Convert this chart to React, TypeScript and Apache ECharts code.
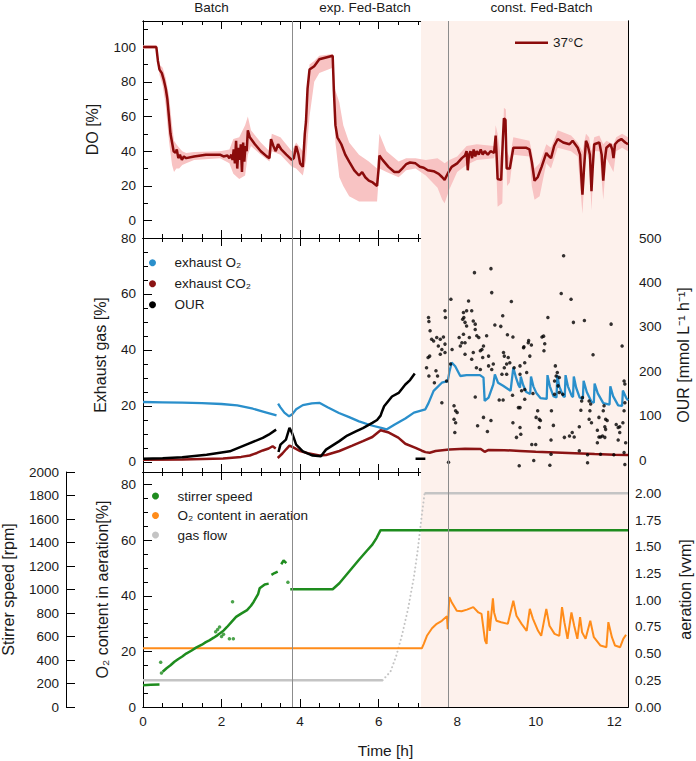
import React, { useEffect, useRef } from "react";
import * as echarts from "echarts";

const FONT = '"Liberation Sans", Arial, Helvetica, sans-serif';
const TXT = "#1a1a1a";

// ---------- axis extents & ticks ----------
const T_MIN = 0;
const T_MAX = 12.35;
const X_MAJOR = [0, 2, 4, 6, 8, 10, 12];
const DO_LABELS = [0, 20, 40, 60, 80, 100];
const EXH_LABELS = [0, 20, 40, 60, 80];
const OUR_LABELS = [0, 100, 200, 300, 400, 500];
const O2C_LABELS = [0, 20, 40, 60, 80];
const AER_LABELS = [0, 0.25, 0.5, 0.75, 1.0, 1.25, 1.5, 1.75, 2.0];
const RPM_LABELS = [0, 200, 400, 600, 800, 1000, 1200, 1400, 1600, 1800, 2000];

const PHASE_NAMES = ["Batch", "exp. Fed-Batch", "const. Fed-Batch"];
const PHASE_LINES_T = [3.79, 7.78];
const SHADE_START_T = 7.08;

// ---------- DO (top panel) ----------
const DO_MEAN = [
  [0, 100], [0.34, 100], [0.38, 92], [0.42, 87], [0.48, 85], [0.53, 81], [0.58, 76], [0.62, 70], [0.66, 60],
  [0.7, 50], [0.74, 45], [0.78, 40], [0.83, 39], [0.86, 41], [0.9, 36], [0.94, 38], [0.99, 35], [1.04, 37],
  [1.1, 36], [1.3, 37], [1.6, 38], [1.96, 38], [2.05, 37], [2.15, 37.5], [2.2, 36], [2.25, 38], [2.28, 35],
  [2.31, 41], [2.34, 33], [2.37, 46], [2.4, 30], [2.43, 42], [2.46, 35], [2.49, 44], [2.52, 28], [2.55, 45],
  [2.58, 34], [2.61, 43], [2.64, 40], [2.67, 52], [2.72, 48], [2.85, 44], [3.0, 40], [3.15, 37], [3.22, 36],
  [3.26, 47], [3.32, 43], [3.38, 40], [3.44, 44], [3.52, 41], [3.65, 38], [3.79, 35], [3.84, 36], [3.9, 43],
  [3.96, 38], [4.0, 33], [4.07, 31], [4.12, 50], [4.15, 57], [4.19, 76], [4.24, 87], [4.36, 89], [4.49, 93],
  [4.83, 95], [4.86, 75], [4.9, 55], [4.95, 48], [5.05, 44], [5.15, 38], [5.25, 34], [5.38, 29], [5.5, 26],
  [5.58, 28], [5.66, 25], [5.75, 23], [5.85, 22], [5.96, 20], [6.0, 30], [6.02, 37.5], [6.1, 35], [6.25, 31],
  [6.4, 28], [6.51, 28], [6.6, 30], [6.7, 32.5], [6.8, 33.5], [6.94, 33], [7.05, 31], [7.15, 30.5], [7.25, 29],
  [7.4, 28.5], [7.53, 27], [7.62, 25], [7.68, 23.5], [7.78, 28], [7.86, 31], [8.0, 33], [8.12, 36], [8.2, 37.5],
  [8.24, 40], [8.27, 29], [8.3, 38], [8.34, 40], [8.38, 36], [8.42, 41], [8.46, 37], [8.5, 40], [8.55, 38],
  [8.6, 41], [8.65, 38], [8.7, 40], [8.78, 38], [8.85, 40], [8.94, 39], [8.98, 49], [9.0, 40], [9.03, 24],
  [9.12, 23.5], [9.16, 45], [9.19, 59], [9.23, 58], [9.26, 30], [9.34, 30], [9.4, 38], [9.43, 42], [9.6, 42],
  [9.75, 42], [9.84, 41], [9.9, 34], [9.97, 23], [10.05, 25], [10.15, 31], [10.27, 39], [10.34, 37], [10.39, 36],
  [10.47, 43], [10.56, 47], [10.7, 45], [10.86, 44], [10.94, 46], [11.07, 42], [11.13, 38], [11.17, 22],
  [11.19, 15], [11.23, 30], [11.28, 46], [11.32, 44], [11.38, 38], [11.42, 17], [11.45, 30], [11.49, 44],
  [11.62, 45], [11.68, 38], [11.72, 23], [11.76, 35], [11.8, 42], [11.9, 44], [11.95, 41], [11.98, 36],
  [12.02, 44], [12.1, 46], [12.18, 47], [12.28, 45], [12.35, 44],
];

// [time, lower, upper] of the shaded deviation band
const DO_BAND = [
  [0, 99, 101], [0.34, 99, 101], [0.42, 84, 90], [0.5, 78, 88], [0.58, 66, 82], [0.66, 46, 72], [0.74, 32, 55],
  [0.79, 28, 46], [0.85, 30, 44], [0.92, 30, 42], [1.0, 32, 40], [1.1, 33, 39], [1.3, 35, 39.5], [1.96, 36, 40],
  [2.2, 33, 41], [2.3, 27, 47], [2.45, 24, 48], [2.6, 26, 55], [2.67, 38, 60], [2.75, 43, 52], [3.0, 38, 45],
  [3.22, 34, 40], [3.28, 40, 50], [3.5, 38, 48], [3.79, 31, 40], [3.9, 30, 45], [4.07, 26, 40], [4.15, 35, 60],
  [4.24, 60, 90], [4.36, 80, 92], [4.49, 85, 95], [4.83, 88, 96], [4.9, 45, 75], [5.0, 25, 68], [5.1, 20, 55],
  [5.25, 14, 45], [5.5, 11, 38], [5.75, 11, 34], [5.96, 11, 30], [6.02, 30, 50], [6.2, 28, 40], [6.51, 25, 34],
  [6.7, 29, 36], [6.94, 30, 36], [7.2, 26, 35], [7.5, 19, 36], [7.62, 12, 34], [7.68, 10, 33], [7.8, 18, 35],
  [8.0, 28, 37], [8.24, 32, 43], [8.5, 35, 44], [8.94, 36, 43], [8.98, 40, 55], [9.03, 8, 50], [9.15, 10, 30],
  [9.19, 50, 65], [9.24, 48, 64], [9.27, 20, 40], [9.34, 22, 36], [9.43, 38, 48], [9.84, 37, 46], [9.9, 20, 40],
  [9.97, 12, 30], [10.1, 14, 33], [10.27, 33, 44], [10.39, 30, 42], [10.56, 42, 52], [10.9, 40, 49],
  [11.07, 37, 45], [11.19, 4, 40], [11.28, 40, 50], [11.36, 35, 48], [11.42, 6, 40], [11.49, 40, 48],
  [11.62, 40, 49], [11.72, 12, 44], [11.8, 36, 46], [11.98, 28, 44], [12.05, 40, 48], [12.2, 42, 50],
  [12.35, 40, 48],
];

// ---------- exhaust gas (middle panel) ----------
const EXHAUST_O2 = [
  [0, 21.4], [0.5, 21.3], [1, 21.2], [1.5, 21], [2, 20.7], [2.4, 20.2], [2.8, 19], [3.1, 17.8], [3.4, 16.6],
  [3.42, null], [3.44, 20.8], [3.5, 19.5], [3.6, 17.6], [3.72, 16.3], [3.8, 17], [3.9, 18.8], [4.07, 20.3],
  [4.3, 20.9], [4.49, 21.1], [4.7, 19.5], [4.99, 17.5], [5.25, 16], [5.5, 14.5], [5.8, 13.1], [6.09, 12.1],
  [6.2, 11.6], [6.4, 13.3], [6.68, 15.5], [6.9, 17.6], [7.19, 18.8], [7.27, 21], [7.4, 25.4], [7.61, 28.3],
  [7.76, 28.9], [7.8, 32], [7.86, 35.5], [7.95, 34.2], [8.08, 30.7], [8.24, 31], [8.58, 31], [8.67, 30.1],
  [8.7, 21.8], [8.8, 23], [8.92, 27.7], [8.96, 31.3], [9.04, 28.3], [9.17, 27.2], [9.36, 25.4], [9.43, 33.7],
  [9.5, 30], [9.56, 27.5], [9.6, 26.5], [9.62, 30.5], [9.68, 27.5], [9.76, 25], [9.86, 24.3], [9.88, 30.5],
  [9.94, 27], [10.02, 24.5], [10.12, 22.8], [10.28, 22.5], [10.3, 31], [10.36, 27], [10.45, 23.5], [10.53, 23],
  [10.55, 31], [10.6, 27], [10.7, 23.5], [10.74, 23.2], [10.76, 31], [10.82, 27], [10.92, 23.5], [10.95, 23.2],
  [10.97, 30.5], [11.03, 26.5], [11.12, 23], [11.2, 22.5], [11.22, 29], [11.3, 25], [11.42, 21.5], [11.48, 21.2],
  [11.5, 28], [11.58, 24.5], [11.72, 21], [11.88, 20.5], [11.9, 27], [11.97, 23.5], [12.1, 20.2], [12.2, 20],
  [12.22, 25.5], [12.3, 23], [12.35, 22],
];

const EXHAUST_CO2 = [
  [0, 0.8], [1, 0.9], [2.04, 1.2], [2.5, 1.8], [2.72, 2.3], [2.9, 3.2], [3.05, 4.1], [3.2, 4.8], [3.3, 5.6],
  [3.38, 4.8], [3.41, null], [3.43, 1.4], [3.55, 3], [3.65, 4.6], [3.73, 5.8], [3.85, 5], [3.98, 4], [4.2, 3.1],
  [4.49, 2.3], [4.66, 2.5], [5.0, 3.9], [5.33, 5.8], [5.6, 7.4], [5.84, 8.9], [6.05, 11.3], [6.26, 10.5],
  [6.5, 8.7], [6.68, 6.5], [6.94, 5], [7.1, 4], [7.19, 3.5], [7.3, 3.3], [7.45, 3.9], [7.8, 4.4], [8.2, 4.7],
  [8.6, 4.6], [8.7, 3.6], [8.8, 4.3], [9.2, 4.2], [9.6, 3.9], [10, 3.6], [10.5, 3.4], [11, 3.1], [11.5, 2.8],
  [12, 2.6], [12.35, 2.5],
];

const OUR_LINE = [
  [0, 3], [0.5, 4], [1, 6], [1.62, 12], [2.21, 19.6], [2.63, 34.7], [3.05, 49.7], [3.2, 57], [3.39, 68.5],
  [3.42, null], [3.45, 18], [3.5, 34.7], [3.64, 46], [3.73, 72.3], [3.8, 60], [3.9, 34.7], [4.07, 19.6],
  [4.32, 9.9], [4.53, 8.4], [4.66, 23.4], [4.99, 42], [5.2, 55], [5.42, 64.6], [5.6, 72], [5.84, 83.5],
  [5.96, 90], [6.05, 100], [6.09, 110], [6.14, 121], [6.34, 143], [6.51, 151], [6.68, 170], [6.8, 180],
  [6.92, 194.6], [6.93, null], [6.94, 3], [7.19, 3],
];

const OUR_POINTS = [
  [7.22, 208], [7.26, 231], [7.27, 321], [7.28, 312], [7.28, 189], [7.3, 234], [7.31, 291], [7.35, 272],
  [7.4, 268], [7.42, 174], [7.46, 201], [7.48, 276], [7.5, 189], [7.52, 257], [7.57, 272], [7.57, 238],
  [7.61, 249], [7.61, 129], [7.65, 277], [7.69, 261], [7.69, 242], [7.69, 336], [7.7, 321], [7.73, 178],
  [7.78, -5], [7.83, 216], [7.84, 362], [7.87, 249], [7.92, 122], [7.92, 92], [7.94, 62], [7.96, 111],
  [7.96, 84], [8.0, 107], [8.05, 276], [8.08, 257], [8.12, 264], [8.14, 317], [8.16, 332], [8.16, 283],
  [8.17, 321], [8.2, 310], [8.2, 264], [8.2, 238], [8.24, 336], [8.24, 302], [8.29, 358], [8.31, 276],
  [8.37, 336], [8.37, 227], [8.41, 313], [8.41, 242], [8.44, 422], [8.46, 306], [8.46, 294], [8.46, 142],
  [8.49, 208], [8.5, 280], [8.52, 77], [8.55, 276], [8.59, 246], [8.59, 204], [8.63, 249], [8.65, 231],
  [8.67, 257], [8.67, 96], [8.75, 280], [8.77, 64], [8.8, 234], [8.8, 212], [8.86, 431], [8.86, 89],
  [8.88, 377], [8.88, 204], [8.92, 216], [8.96, 304], [9.07, 135], [9.11, 301], [9.14, 193], [9.16, 325],
  [9.17, 135], [9.18, 242], [9.2, 234], [9.2, 208], [9.26, 216], [9.26, 193], [9.28, 282], [9.3, 231],
  [9.34, 219], [9.38, 357], [9.41, 146], [9.42, 277], [9.42, 84], [9.45, 208], [9.51, 51], [9.56, 118],
  [9.58, -13], [9.6, 193], [9.6, 212], [9.6, 118], [9.6, 73], [9.62, 58], [9.64, 156], [9.69, 253],
  [9.7, 255], [9.72, 219], [9.72, 159], [9.72, 137], [9.77, 197], [9.81, 264], [9.82, 269], [9.85, 234],
  [9.89, 259], [9.9, 35], [9.93, 150], [9.95, -1], [10.0, 35], [10.01, 96], [10.05, 111], [10.09, 92],
  [10.09, 73], [10.12, 89], [10.16, 277], [10.2, 279], [10.21, 246], [10.23, 262], [10.31, 321], [10.36, -12],
  [10.39, 45], [10.39, 13], [10.4, 111], [10.45, 78], [10.48, 178], [10.48, 148], [10.5, 212], [10.52, 189],
  [10.55, 197], [10.57, 167], [10.6, 186], [10.6, 152], [10.65, 375], [10.69, 148], [10.71, 460], [10.73, 51],
  [10.86, 54], [10.9, 362], [10.93, 62], [10.96, 310], [10.98, 52], [11.11, 75], [11.11, 21], [11.15, 112],
  [11.17, 133], [11.19, 141], [11.24, 314], [11.32, 12], [11.32, -6], [11.36, 133], [11.36, 92], [11.38, 111],
  [11.4, 126], [11.42, 84], [11.46, 237], [11.57, 67], [11.57, 39], [11.61, 96], [11.61, 52], [11.65, 52],
  [11.65, 13], [11.7, 54], [11.72, 111], [11.74, 122], [11.76, 75], [11.76, 51], [11.78, 92], [11.78, 69],
  [11.82, 89], [11.92, 306], [11.99, 12], [12.05, 80], [12.1, 73], [12.1, 45], [12.14, 75], [12.14, 62],
  [12.2, 257], [12.22, 84], [12.25, 111], [12.25, 178], [12.25, 17], [12.27, 129], [12.27, 171], [12.27, -10],
  [12.29, 39],
];

// ---------- process control (bottom panel) ----------
const STIRRER_LINE = [
  [0, 185], [0.2, 190], [0.42, 192], [0.43, null], [0.5, 300], [0.6, 330], [0.7, 355], [0.8, 385], [0.9, 409],
  [1.0, 430], [1.1, 455], [1.24, 481], [1.35, 505], [1.5, 530], [1.6, 552], [1.69, 567], [1.8, 590], [1.9, 612],
  [1.97, 629], [2.05, 650], [2.14, 681], [2.25, 722], [2.37, 767], [2.5, 795], [2.65, 824], [2.75, 862],
  [2.82, 896], [2.93, 960], [2.97, 1010], [3.1, 1043], [3.2, 1050], [3.22, null], [3.27, 1124], [3.35, 1140],
  [3.43, 1153], [3.45, null], [3.52, 1215], [3.58, 1247], [3.65, 1225], [3.7, null], [3.75, 1002], [4.0, 1002],
  [4.4, 1002], [4.83, 1002], [5.0, 1053], [5.25, 1153], [5.5, 1253], [5.7, 1330], [5.84, 1382], [5.95, 1440],
  [6.05, 1505], [8, 1505], [10, 1505], [12.35, 1505],
];
const STIRRER_POINTS = [
  [0.45, 380], [0.47, 290], [1.85, 640], [1.9, 660], [1.95, 680], [2.0, 600], [2.05, 620], [2.2, 581],
  [2.3, 581], [2.28, 896], [3.69, 1062],
];

const O2_AERATION = [
  [0, 21.1], [7.1, 21.1], [7.15, 22.7], [7.23, 25.6], [7.36, 28.3], [7.48, 29.9], [7.61, 31], [7.74, 32.6],
  [7.76, 28], [7.8, 39.5], [7.86, 37.7], [7.99, 34.6], [8.11, 34.4], [8.25, 35], [8.41, 35.9], [8.54, 34],
  [8.62, 33.5], [8.71, 23.9], [8.75, 22.7], [8.79, 34.6], [8.83, 27.4], [8.91, 39.1], [8.94, 34], [9.0, 31],
  [9.12, 30.5], [9.29, 29.9], [9.43, 38.2], [9.51, 32.8], [9.64, 29.9], [9.77, 27.4], [9.85, 35.3],
  [9.93, 31.7], [10.06, 27.4], [10.14, 25.6], [10.27, 35.3], [10.35, 29.2], [10.48, 26.3], [10.6, 25.6],
  [10.67, 35.9], [10.73, 30.5], [10.81, 24.5], [10.91, 34], [10.98, 29.2], [11.06, 24.5], [11.13, 32.3],
  [11.18, 26.9], [11.27, 24.5], [11.39, 31], [11.48, 25.1], [11.65, 22.1], [11.8, 21.5], [11.85, 30.5],
  [11.94, 25.1], [12.02, 22.1], [12.15, 21.5], [12.23, 24.5], [12.3, 26],
];

// gas flow: flat baseline, rising ramp (sparse dots in the original), flat top
const GAS_FLOW_LOW = [[0, 0.25], [6.1, 0.25]];
const GAS_FLOW_RAMP = [
  [6.1, 0.25], [6.3, 0.33], [6.45, 0.48], [6.6, 0.68], [6.75, 0.92], [6.9, 1.22], [7.0, 1.48], [7.1, 1.8], [7.17, 2.0],
];
const GAS_FLOW_HIGH = [[7.17, 2.0], [12.35, 2.0]];

// ---------- helpers ----------
const steps = (a: number, b: number, s: number) => {
  const out: number[] = [];
  for (let v = a; v <= b + 1e-9; v += s) out.push(Math.round(v * 1000) / 1000);
  return out;
};
const X_MINOR = steps(0, 12, 0.5);
const DO_MINOR = steps(-10, 110, 10);
const EXH_MINOR = steps(0, 80, 5);
const OUR_MINOR = steps(-20, 500, 20);
const O2C_MINOR = steps(0, 80, 5);
const AER_MINOR = steps(0, 2.2, 0.05);

const GRIDS = [
  { left: 143, right: 68, top: 21, height: 217, containLabel: false, outerBoundsMode: "none" },
  { left: 143, right: 68, top: 238, height: 234, containLabel: false, outerBoundsMode: "none" },
  { left: 143, right: 68, top: 472, height: 235, containLabel: false, outerBoundsMode: "none" },
];

const lineAx = { show: true, onZero: false, lineStyle: { color: "#000", width: 1 } };
const tickLs = { color: "#000", width: 1 };
const labelStyle = { fontSize: 13.5, color: TXT, fontFamily: FONT };
const nameStyle = { fontSize: 16, color: TXT, fontFamily: FONT };
const plain = (v: number) => String(v);

function xAxes(g: number, withLabels: boolean) {
  const base = { type: "value", gridIndex: g, min: T_MIN, max: T_MAX, splitLine: { show: false }, axisLine: lineAx };
  const main: any = {
    ...base,
    position: "bottom",
    axisTick: { show: true, inside: true, length: 8, customValues: X_MAJOR, lineStyle: tickLs },
    axisLabel: withLabels
      ? { show: true, customValues: X_MAJOR, margin: 7, formatter: plain, alignMinLabel: "center", alignMaxLabel: "center", ...labelStyle }
      : { show: false },
  };
  if (withLabels) {
    main.name = "Time [h]";
    main.nameLocation = "middle";
    main.nameGap = 35;
    main.nameTextStyle = { ...nameStyle, fontSize: 15.5 };
  }
  return [
    main,
    { ...base, position: "bottom", axisTick: { show: true, inside: true, length: 4, customValues: X_MINOR, lineStyle: tickLs }, axisLabel: { show: false } },
    { ...base, position: "top", axisTick: { show: true, inside: true, length: 8, customValues: X_MAJOR, lineStyle: tickLs }, axisLabel: { show: false } },
    { ...base, position: "top", axisTick: { show: true, inside: true, length: 4, customValues: X_MINOR, lineStyle: tickLs }, axisLabel: { show: false } },
  ];
}

function yAx(g: number, pos: string, min: number, max: number, ticks: number[], len: number, extra: any = {}) {
  return {
    type: "value",
    gridIndex: g,
    position: pos,
    min,
    max,
    splitLine: { show: false },
    axisLine: lineAx,
    axisTick: { show: true, inside: true, length: len, customValues: ticks, lineStyle: tickLs },
    axisLabel: { show: false },
    ...extra,
  };
}

function buildOption() {
  const xAxis = [...xAxes(0, false), ...xAxes(1, false), ...xAxes(2, true)];
  const yAxis = [
    // grid 0 : DO
    yAx(0, "left", -10, 115, DO_LABELS, 9, {
      axisLabel: { show: true, customValues: DO_LABELS, margin: 7, formatter: plain, ...labelStyle },
      name: "DO [%]", nameLocation: "middle", nameGap: 43, nameTextStyle: nameStyle,
    }),
    yAx(0, "left", -10, 115, DO_MINOR, 5),
    yAx(0, "right", -10, 115, DO_LABELS, 9),
    yAx(0, "right", -10, 115, DO_MINOR, 5),
    // grid 1 : exhaust gas / OUR
    yAx(1, "left", -3.6, 80, EXH_LABELS, 9, {
      axisLabel: { show: true, customValues: EXH_LABELS, margin: 7, formatter: plain, ...labelStyle },
      name: "Exhaust gas [%]", nameLocation: "middle", nameGap: 35, nameTextStyle: nameStyle,
    }),
    yAx(1, "left", -3.6, 80, EXH_MINOR, 5),
    yAx(1, "right", -27, 500, OUR_LABELS, 9, {
      axisLabel: { show: true, customValues: OUR_LABELS, margin: 11, formatter: plain, ...labelStyle },
      name: "OUR [mmol L⁻¹ h⁻¹]", nameLocation: "middle", nameGap: 47, nameTextStyle: nameStyle,
    }),
    yAx(1, "right", -27, 500, OUR_MINOR, 5),
    // grid 2 : aeration
    yAx(2, "left", 0, 84.5, O2C_LABELS, 9, {
      axisLabel: { show: true, customValues: O2C_LABELS, margin: 7, formatter: plain, ...labelStyle },
      name: "O₂ content in aeration[%]", nameLocation: "middle", nameGap: 28, nameTextStyle: nameStyle,
    }),
    yAx(2, "left", 0, 84.5, O2C_MINOR, 5),
    yAx(2, "right", 0, 2.2, AER_LABELS, 9, {
      axisLabel: { show: true, customValues: AER_LABELS, margin: 7, formatter: (v: number) => v.toFixed(2), ...labelStyle },
      name: "aeration [vvm]", nameLocation: "middle", nameGap: 49, nameTextStyle: nameStyle,
    }),
    yAx(2, "right", 0, 2.2, AER_MINOR, 5),
    yAx(2, "left", 0, 2000, RPM_LABELS, 9, {
      offset: 77,
      axisLabel: { show: true, customValues: RPM_LABELS, margin: 7, formatter: plain, ...labelStyle },
      name: "Stirrer speed [rpm]", nameLocation: "middle", nameGap: 50, nameTextStyle: nameStyle,
    }),
  ];

  const shade = (g: number) => ({
    type: "line",
    xAxisIndex: 4 * g,
    yAxisIndex: [0, 4, 8][g],
    data: [],
    z: 1,
    silent: true,
    markArea: {
      silent: true,
      itemStyle: { color: "#fdf1ec" },
      data: [[{ xAxis: SHADE_START_T }, { xAxis: T_MAX }]],
    },
  });
  const vlines = (g: number) => ({
    type: "line",
    xAxisIndex: 4 * g,
    yAxisIndex: [0, 4, 8][g],
    data: [],
    z: 6,
    silent: true,
    markLine: {
      silent: true,
      symbol: ["none", "none"],
      label: { show: false },
      lineStyle: { color: "#8c8c8c", width: 1, type: "solid" },
      data: PHASE_LINES_T.map((t) => ({ xAxis: t })),
    },
  });

  const lineS = (name: string, xi: number, yi: number, data: any[], color: string, width: number, z = 3, type: any = "solid") => ({
    name,
    type: "line",
    xAxisIndex: xi,
    yAxisIndex: yi,
    data,
    color,
    symbol: "none",
    showSymbol: false,
    connectNulls: false,
    lineStyle: { color, width, type, cap: type === "solid" ? "butt" : "round" },
    z,
    silent: true,
  });
  const dotS = (name: string, xi: number, yi: number, data: any[], color: string, size: number, z = 4) => ({
    name,
    type: "scatter",
    xAxisIndex: xi,
    yAxisIndex: yi,
    data,
    color,
    symbol: "circle",
    symbolSize: size,
    itemStyle: { color },
    z,
    silent: true,
  });

  const series: any[] = [
    shade(0),
    {
      name: "DO band",
      type: "custom",
      xAxisIndex: 0,
      yAxisIndex: 0,
      data: [[0, 0]],
      z: 2,
      silent: true,
      clip: true,
      renderItem: (params: any, api: any) => {
        if (params.dataIndex !== 0) return null;
        const pts: number[][] = [];
        for (const row of DO_BAND) pts.push(api.coord([row[0], row[2]]));
        for (let i = DO_BAND.length - 1; i >= 0; i--) pts.push(api.coord([DO_BAND[i][0], DO_BAND[i][1]]));
        return { type: "polygon", shape: { points: pts }, style: { fill: "#f8c3c3" } };
      },
    },
    lineS("37°C", 0, 0, DO_MEAN, "#8b0b0b", 2.5),
    vlines(0),

    shade(1),
    lineS("exhaust O₂", 4, 4, EXHAUST_O2, "#2a8fcb", 2.3),
    lineS("exhaust CO₂", 4, 4, EXHAUST_CO2, "#8b1414", 2.5),
    lineS("OUR", 4, 6, OUR_LINE, "#000000", 2.5),
    dotS("OUR", 4, 6, OUR_POINTS, "#000000", 3.5),
    vlines(1),

    shade(2),
    lineS("gas flow", 8, 10, GAS_FLOW_LOW, "#c4c4c4", 2.5, 2),
    lineS("gas flow", 8, 10, GAS_FLOW_RAMP, "#c4c4c4", 2, 2, [0.1, 4]),
    lineS("gas flow", 8, 10, GAS_FLOW_HIGH, "#c4c4c4", 2.5, 2),
    lineS("O₂ content in aeration", 8, 8, O2_AERATION, "#ff8c1a", 2, 3),
    lineS("stirrer speed", 8, 12, STIRRER_LINE, "#1e8c1e", 2.5, 3),
    dotS("stirrer speed", 8, 12, STIRRER_POINTS, "#1e8c1e", 3.5),
    vlines(2),
  ];

  const legendText = { fontSize: 13.5, color: TXT, fontFamily: FONT, lineHeight: 14 };
  const legend = [
    {
      selectedMode: false, left: 515, top: 35.7, padding: 0, itemWidth: 33, itemHeight: 2.5,
      textStyle: legendText, data: [{ name: "37°C", icon: "rect" }],
    },
    {
      selectedMode: false, orient: "vertical", left: 149, top: 255.7, padding: 0, itemWidth: 34, itemHeight: 7,
      itemGap: 7, textStyle: legendText,
      data: [
        { name: "exhaust O₂", icon: "circle" },
        { name: "exhaust CO₂", icon: "circle" },
        { name: "OUR", icon: "circle" },
      ],
    },
    {
      selectedMode: false, orient: "vertical", left: 152, top: 489, padding: 0, itemWidth: 34, itemHeight: 7,
      itemGap: 5.5, textStyle: legendText,
      data: [
        { name: "stirrer speed", icon: "circle" },
        { name: "O₂ content in aeration", icon: "circle" },
        { name: "gas flow", icon: "circle" },
      ],
    },
  ];

  const phaseX = [211.5, 365, 541.5];
  const graphic = PHASE_NAMES.map((txt, i) => ({
    type: "text",
    x: phaseX[i],
    y: 7,
    style: { text: txt, align: "center", verticalAlign: "middle", fontSize: 13.5, fill: TXT, fontFamily: FONT },
    silent: true,
  }));

  return {
    animation: false,
    backgroundColor: "#ffffff",
    textStyle: { fontFamily: FONT },
    grid: GRIDS,
    xAxis,
    yAxis,
    legend,
    graphic,
    series,
  };
}

export default function App() {
  const ref = useRef<HTMLDivElement>(null);
  useEffect(() => {
    if (!ref.current) return;
    const chart = echarts.init(ref.current, null, { renderer: "svg" });
    chart.setOption(buildOption() as any);
    return () => chart.dispose();
  }, []);
  return (
    <div
      ref={ref}
      style={{ position: "fixed", left: 0, top: 0, width: 696, height: 761, background: "#fff" }}
    />
  );
}
